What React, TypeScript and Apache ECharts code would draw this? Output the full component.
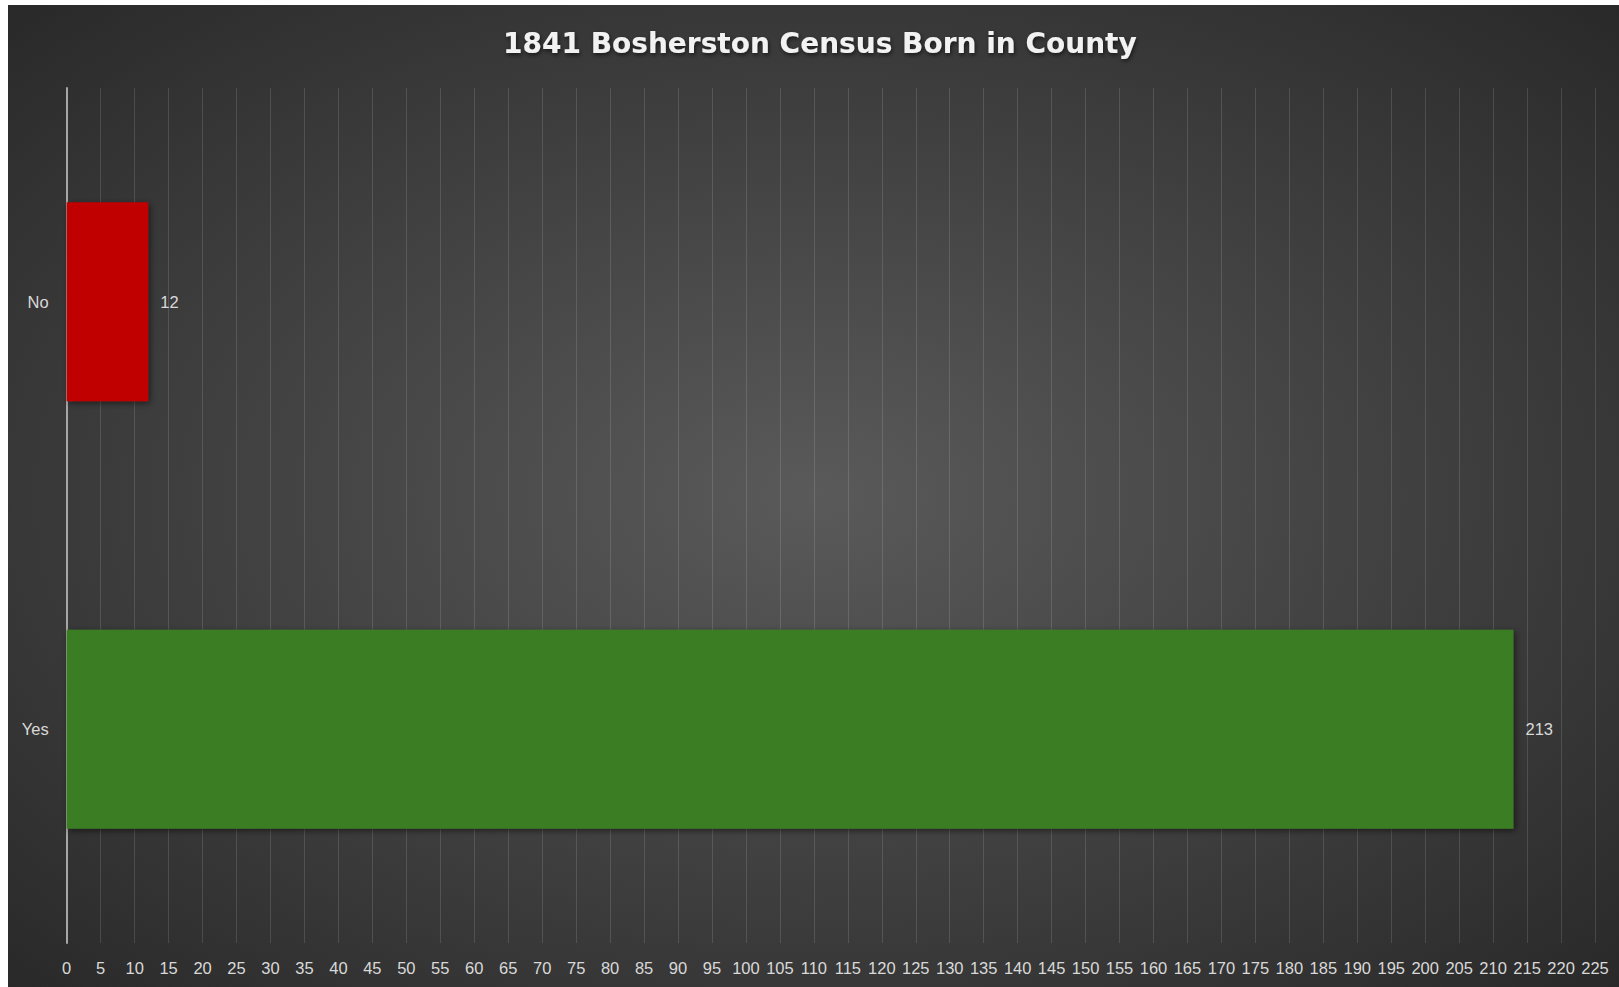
import React, { useEffect, useRef } from "react";
import * as echarts from "echarts";

const titleText = "1841 Bosherston Census Born in County";
const categories = ["No", "Yes"];
const values = [12, 213];
const barColors = ["#c00000", "#3b7d23"];
const axisMin = 0;
const axisMax = 225;
const axisStep = 5;

export default function App() {
  const ref = useRef<HTMLDivElement>(null);
  useEffect(() => {
    const chart = echarts.init(ref.current!, null, { renderer: "svg" });
    chart.setOption({
      animation: false,
      backgroundColor: {
        type: "radial",
        x: 0.5,
        y: 0.5,
        r: 0.75,
        colorStops: [
          { offset: 0, color: "#5a5a5a" },
          { offset: 1, color: "#262626" },
        ],
      },
      title: {
        text: titleText,
        left: 495,
        top: 24,
        padding: 0,
        textStyle: {
          color: "#f2f2f2",
          fontFamily: "DejaVu Sans",
          fontWeight: "bold",
          fontSize: 28,
          textShadowColor: "rgba(0,0,0,0.6)",
          textShadowBlur: 4,
          textShadowOffsetX: 1,
          textShadowOffsetY: 2,
        },
      },
      grid: { left: 58.7, right: 24, top: 83, bottom: 44, containLabel: false },
      xAxis: {
        type: "value",
        min: axisMin,
        max: axisMax,
        interval: axisStep,
        axisLine: { show: false },
        axisTick: { show: false },
        axisLabel: {
          color: "#d9d9d9",
          fontSize: 16.5,
          fontFamily: "Liberation Sans",
          margin: 16,
        },
        splitLine: { show: true, lineStyle: { color: "rgba(255,255,255,0.13)", width: 1 } },
      },
      yAxis: {
        type: "category",
        data: categories,
        inverse: true,
        axisLine: { show: true, lineStyle: { color: "#a6a6a6", width: 2 } },
        axisTick: { show: false },
        axisLabel: {
          color: "#d9d9d9",
          fontSize: 16.5,
          fontFamily: "Liberation Sans",
          margin: 18,
        },
        splitLine: { show: false },
      },
      series: [
        {
          type: "bar",
          barWidth: "46.5%",
          data: values.map((v, i) => ({ value: v, itemStyle: { color: barColors[i] } })),
          itemStyle: {
            shadowColor: "rgba(0,0,0,0.5)",
            shadowBlur: 6,
            shadowOffsetX: 2,
            shadowOffsetY: 2,
          },
          label: {
            show: true,
            position: "right",
            distance: 12,
            color: "#d9d9d9",
            fontSize: 16.5,
            fontFamily: "Liberation Sans",
          },
        },
      ],
    });
    return () => chart.dispose();
  }, []);
  return (
    <div
      ref={ref}
      style={{ position: "absolute", left: 8, top: 5, width: 1611, height: 982 }}
    />
  );
}
